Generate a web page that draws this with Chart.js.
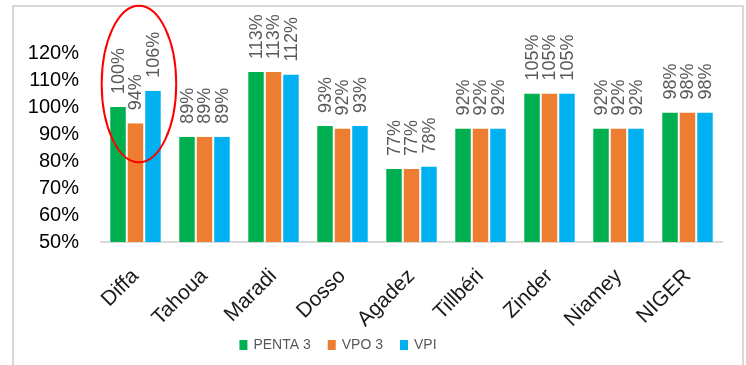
<!DOCTYPE html>
<html>
<head>
<meta charset="utf-8">
<script src="https://cdn.jsdelivr.net/npm/chart.js@4.4.0/dist/chart.umd.min.js"></script>
<style>
  html, body { margin: 0; padding: 0; background: #fff; }
  #wrap { position: relative; width: 746px; height: 365px; overflow: hidden; }
  #frame {
    position: absolute; left: 12px; top: 5px; width: 732px; height: 420px;
    border: 2px solid #d9d9d9; box-sizing: border-box;
  }
  #chart { position: absolute; left: 0; top: 0; }
</style>
</head>
<body>
<div id="wrap">
  <div id="frame"></div>
  <canvas id="chart" width="746" height="365"></canvas>
</div>
<script>
// Vaccination coverage by region (%)
const regions = ['Diffa', 'Tahoua', 'Maradi', 'Dosso', 'Agadez', 'Tillbéri', 'Zinder', 'Niamey', 'NIGER'];
const penta3 = [100, 89, 113, 93, 77, 92, 105, 92, 98];
const vpo3 = [94, 89, 113, 92, 77, 92, 105, 92, 98];
const vpi = [106, 89, 112, 93, 78, 92, 105, 92, 98];
const yTicks = [50, 60, 70, 80, 90, 100, 110, 120];

const seriesNames = ['PENTA 3', 'VPO 3', 'VPI'];
const seriesColors = ['#00B050', '#ED7D31', '#00B0F0'];

// red ring drawn around the Diffa group (category index, y range in %)
const ring = { index: 0, shift: 0.05, halfWidth: 0.54, top: 137.5, bottom: 79.5 };

const FONT = '"Liberation Sans", Arial, sans-serif';

// percentage written vertically above each bar
const valueLabels = {
  id: 'valueLabels',
  afterDatasetsDraw(chart) {
    const ctx = chart.ctx;
    ctx.save();
    ctx.font = '18px ' + FONT;
    ctx.fillStyle = '#595959';
    ctx.textAlign = 'left';
    ctx.textBaseline = 'middle';
    chart.data.datasets.forEach((ds, i) => {
      chart.getDatasetMeta(i).data.forEach((bar, j) => {
        ctx.save();
        ctx.translate(bar.x + 1, bar.y - 13);
        ctx.rotate(-Math.PI / 2);
        ctx.fillText(ds.data[j] + '%', 0, 0);
        ctx.restore();
      });
    });
    ctx.restore();
  }
};

const ringPlugin = {
  id: 'ring',
  afterDraw(chart) {
    const { x, y } = chart.scales;
    const step = x.getPixelForValue(1) - x.getPixelForValue(0);
    const cx = x.getPixelForValue(ring.index) + ring.shift * step;
    const top = y.getPixelForValue(ring.top);
    const bottom = y.getPixelForValue(ring.bottom);
    const ctx = chart.ctx;
    ctx.save();
    ctx.beginPath();
    ctx.ellipse(cx, (top + bottom) / 2, ring.halfWidth * step, (bottom - top) / 2, 0, 0, Math.PI * 2);
    ctx.strokeStyle = '#FF0000';
    ctx.lineWidth = 2;
    ctx.stroke();
    ctx.restore();
  }
};

// small legend under the axis labels
const bottomLegend = {
  id: 'bottomLegend',
  afterDraw(chart) {
    const ctx = chart.ctx;
    const centerX = 338, centerY = 345;
    const box = 8, gap = 6, spacing = 17;
    ctx.save();
    ctx.font = '14px ' + FONT;
    ctx.textBaseline = 'middle';
    ctx.textAlign = 'left';
    const widths = seriesNames.map(n => ctx.measureText(n).width);
    const total = widths.reduce((s, w) => s + box + gap + w, 0) + spacing * (seriesNames.length - 1);
    let px = centerX - total / 2;
    seriesNames.forEach((name, i) => {
      ctx.fillStyle = seriesColors[i];
      ctx.fillRect(px, centerY - 5, box, 10);
      ctx.fillStyle = '#595959';
      ctx.fillText(name, px + box + gap, centerY);
      px += box + gap + widths[i] + spacing;
    });
    ctx.restore();
  }
};

new Chart(document.getElementById('chart'), {
  type: 'bar',
  data: {
    labels: regions,
    datasets: [penta3, vpo3, vpi].map((d, i) => ({
      label: seriesNames[i],
      data: d,
      backgroundColor: seriesColors[i],
      borderColor: '#fff',
      borderWidth: { left: 1, right: 1, top: 0, bottom: 0 },
      borderSkipped: false,
      categoryPercentage: 0.76,
      barPercentage: 1
    }))
  },
  options: {
    responsive: false,
    animation: false,
    layout: { padding: { left: 0, right: 24, top: 53, bottom: 38 } },
    plugins: {
      legend: { display: false },
      tooltip: { enabled: false }
    },
    scales: {
      x: {
        grid: { display: false, drawTicks: false },
        border: { display: true, color: '#d9d9d9', width: 2 },
        ticks: {
          minRotation: 45,
          maxRotation: 45,
          padding: 22,
          color: '#1a1a1a',
          font: { family: FONT, size: 21 }
        },
        afterFit(scale) { scale.height = 85; }
      },
      y: {
        min: 50,
        max: 120,
        grid: { display: false, drawTicks: false },
        border: { display: false },
        ticks: {
          padding: 22,
          color: '#000',
          font: { family: FONT, size: 20 },
          callback: v => v + '%'
        },
        afterBuildTicks(scale) { scale.ticks = yTicks.map(v => ({ value: v })); },
        afterFit(scale) { scale.width = 101; }
      }
    }
  },
  plugins: [valueLabels, ringPlugin, bottomLegend]
});
</script>
</body>
</html>
